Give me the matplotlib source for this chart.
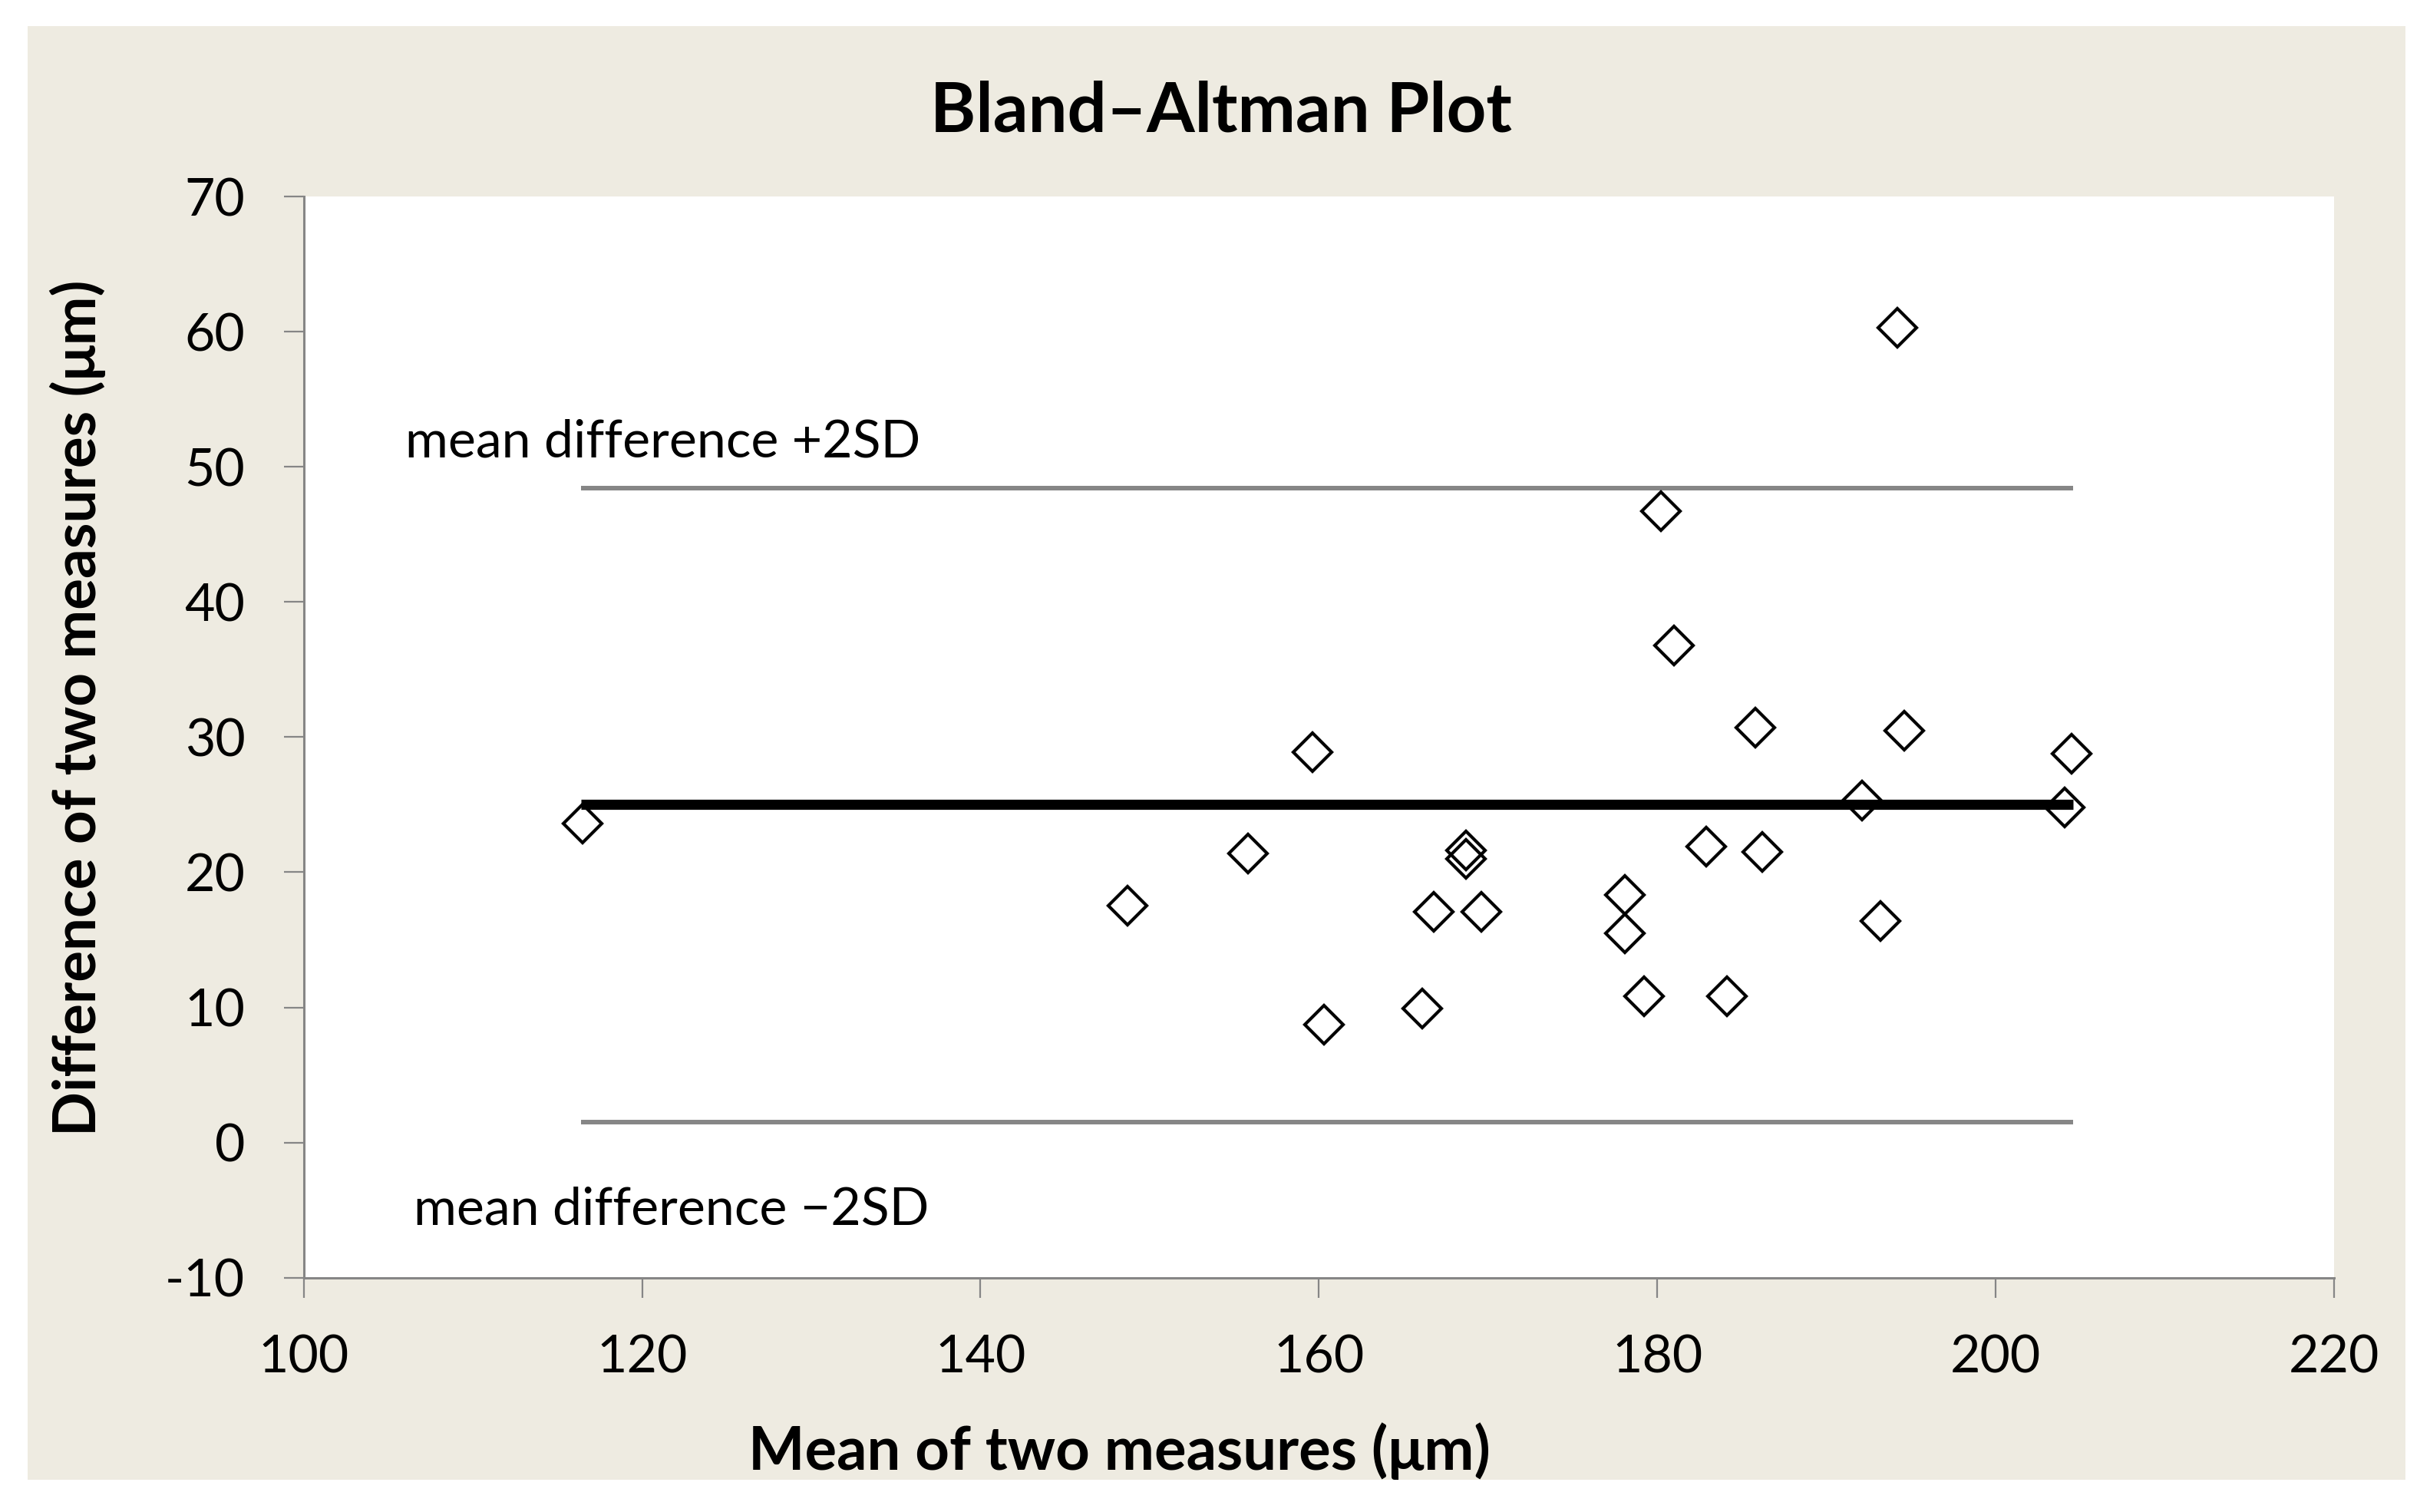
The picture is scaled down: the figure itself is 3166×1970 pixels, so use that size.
import matplotlib
matplotlib.use("Agg")
import matplotlib.pyplot as plt
from matplotlib.patches import Rectangle

plt.rcParams['font.family'] = ['Lato', 'DejaVu Sans']
plt.rcParams['axes.unicode_minus'] = False

# Data
mean_of_two = [116.5, 148.7, 155.8, 159.6, 160.3, 166.1, 166.8, 168.7, 168.7, 169.6,
               178.1, 178.1, 179.2, 180.2, 181.0, 182.9, 184.1, 185.8, 186.2, 192.1,
               193.2, 194.2, 194.6, 204.1, 204.5]
diff_of_two = [23.6, 17.5, 21.4, 28.9, 8.7, 9.9, 17.1, 21.6, 21.0, 17.1,
               18.3, 15.5, 10.8, 46.7, 36.8, 21.9, 10.8, 30.7, 21.5, 25.3,
               16.4, 60.3, 30.5, 24.8, 28.8]
mean_diff = 25.0
upper_loa = 48.4
lower_loa = 1.5
loa_x = [116.4, 204.6]

x_ticks = [100, 120, 140, 160, 180, 200, 220]
y_ticks = [-10, 0, 10, 20, 30, 40, 50, 60, 70]

title = "Bland\u2013Altman Plot"
xlabel = "Mean of two measures (\u03bcm)"
ylabel = "Difference of two measures (\u03bcm)"
upper_text = "mean difference +2SD"
lower_text = "mean difference \u22122SD"

W, H = 3166, 1970
DPI = 100
fig = plt.figure(figsize=(W / DPI, H / DPI), dpi=DPI, facecolor='white')

beige = '#EEEBE1'
fig.patches.append(Rectangle((0.0115, 0.0215), 0.9785, 0.961, transform=fig.transFigure,
                             facecolor=beige, edgecolor='none', zorder=-1))

ax = fig.add_axes([0.125, 0.155, 0.8355, 0.715])
ax.set_facecolor('white')

grey = '#868686'
ax.plot(loa_x, [upper_loa, upper_loa], color=grey, lw=4.3, solid_capstyle='butt', zorder=2)
ax.plot(loa_x, [lower_loa, lower_loa], color=grey, lw=4.3, solid_capstyle='butt', zorder=2)
ax.plot(loa_x, [mean_diff, mean_diff], color='black', lw=9.5, solid_capstyle='butt', zorder=2)

ax.plot(mean_of_two, diff_of_two, linestyle='none', marker='D', markersize=25,
        markerfacecolor='none', markeredgecolor='black', markeredgewidth=3.0, zorder=3)

ax.set_xlim(100, 220)
ax.set_ylim(-10, 70)
ax.set_xticks(x_ticks)
ax.set_yticks(y_ticks)
ax.set_xticklabels([str(v) for v in x_ticks])
ax.set_yticklabels([str(v) for v in y_ticks])

for s in ['top', 'right']:
    ax.spines[s].set_visible(False)
for s in ['left', 'bottom']:
    ax.spines[s].set_color(grey)
    ax.spines[s].set_linewidth(2.2)

ax.tick_params(axis='both', direction='out', length=19, width=1.6, color=grey,
               labelsize=49, labelcolor='black')
ax.tick_params(axis='y', pad=36)
ax.tick_params(axis='x', pad=34)

ax.text(106.0, 51.8, upper_text, fontsize=49, va='center', ha='left', color='black')
ax.text(106.5, -5.0, lower_text, fontsize=49, va='center', ha='left', color='black')

fig.text(0.5026, 0.926, title, fontsize=65, fontweight='bold', ha='center', va='center')
fig.text(0.4605, 0.040, xlabel, fontsize=56, fontweight='bold', ha='center', va='center')
fig.text(0.0319, 0.532, ylabel, fontsize=55, fontweight='bold', ha='center', va='center',
         rotation=90)

fig.savefig('out.png', dpi=DPI, facecolor='white')
